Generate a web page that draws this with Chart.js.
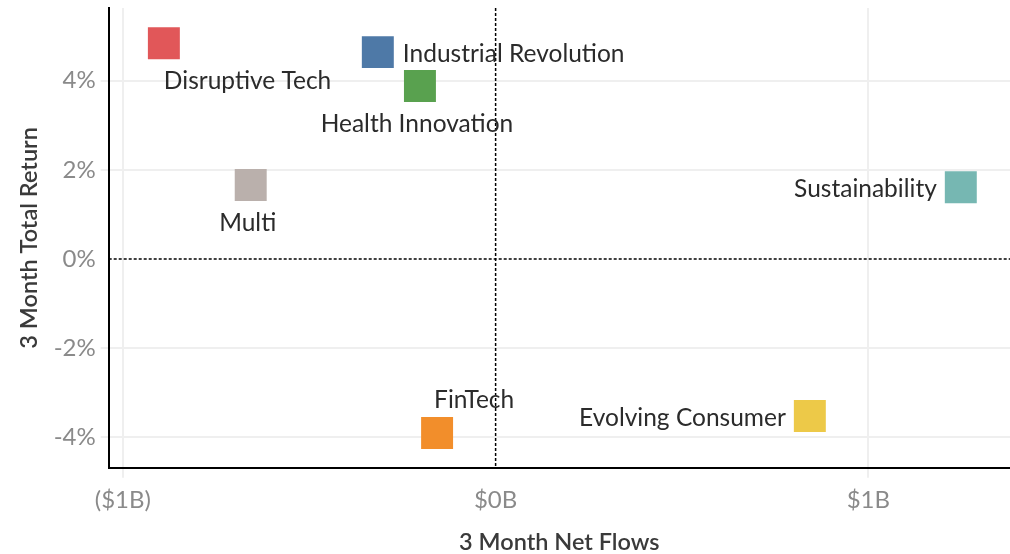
<!DOCTYPE html>
<html>
<head>
<meta charset="utf-8">
<script src="https://cdn.jsdelivr.net/npm/chart.js@4"></script>
<style>
  body { margin: 0; background: #fff; }
  #wrap { width: 1010px; height: 554px; }
</style>
</head>
<body>
<div id="wrap"><canvas id="flows-chart" width="1010" height="554"></canvas></div>
<script>
// data
const themes = ['Disruptive Tech', 'Industrial Revolution', 'Health Innovation', 'Multi', 'Sustainability', 'FinTech', 'Evolving Consumer'];
const netFlows = [-0.89, -0.316, -0.203, -0.657, 1.248, -0.157, 0.843];   // $B
const totalReturn = [4.84, 4.64, 3.88, 1.66, 1.61, -3.90, -3.52];         // %
const xTickValues = [-1, 0, 1];
const xTickLabels = ['($1B)', '$0B', '$1B'];
const yTickValues = [-4, -2, 0, 2, 4];
const yTickLabels = ['-4%', '-2%', '0%', '2%', '4%'];

const colors = ['#e15759', '#4e79a7', '#59a14f', '#bab0ac', '#76b7b2', '#f28e2b', '#edc948'];
// where each label sits relative to its square
const labelPos = ['belowRight', 'right', 'below', 'below', 'left', 'aboveRight', 'left'];

const FONT = 'Lato, "Open Sans", sans-serif';

const pointLabels = {
  id: 'pointLabels',
  afterDatasetsDraw(chart) {
    const ctx = chart.ctx;
    const meta = chart.getDatasetMeta(0);
    ctx.save();
    ctx.font = '24.5px ' + FONT;
    ctx.fillStyle = '#2b2b2b';
    ctx.textBaseline = 'middle';
    meta.data.forEach((pt, i) => {
      let x = pt.x, y = pt.y + 2, half = 16;
      let pos = labelPos[i];
      if (pos == 'right') { ctx.textAlign = 'left'; x += half + 9; }
      else if (pos == 'left') { ctx.textAlign = 'right'; x -= half + 8; }
      else if (pos == 'below') { ctx.textAlign = 'center'; y += half + 20; x -= 3; }
      else if (pos == 'belowRight') { ctx.textAlign = 'left'; y += half + 20; }
      else if (pos == 'aboveRight') { ctx.textAlign = 'left'; y -= half + 19; x -= 3; }
      ctx.fillText(themes[i], x, y);
    });
    ctx.restore();
  }
};

// dotted zero lines
const zeroLines = {
  id: 'zeroLines',
  beforeDatasetsDraw(chart) {
    const {ctx, chartArea, scales} = chart;
    const x0 = scales.x.getPixelForValue(0);
    const y0 = scales.y.getPixelForValue(0);
    ctx.save();
    ctx.strokeStyle = '#000';
    ctx.lineWidth = 1.5;
    ctx.setLineDash([3, 2]);
    ctx.beginPath();
    ctx.moveTo(x0, chartArea.top);
    ctx.lineTo(x0, chartArea.bottom);
    ctx.moveTo(chartArea.left, y0);
    ctx.lineTo(chartArea.right, y0);
    ctx.stroke();
    ctx.restore();
  }
};

const points = netFlows.map((v, i) => ({x: v, y: totalReturn[i]}));

new Chart(document.getElementById('flows-chart'), {
  type: 'scatter',
  data: {
    datasets: [{
      data: points,
      backgroundColor: colors,
      borderWidth: 0,
      pointStyle: 'rect',
      pointRadius: 22.6,
      pointHoverRadius: 22.6
    }]
  },
  options: {
    responsive: false,
    animation: false,
    layout: { autoPadding: false, padding: { top: 8, right: 0, left: 0, bottom: 0 } },
    plugins: { legend: { display: false }, tooltip: { enabled: false } },
    scales: {
      x: {
        type: 'linear',
        min: -1.038,
        max: 1.38,
        afterBuildTicks: s => { s.ticks = xTickValues.map(v => ({value: v})); },
        afterFit: s => { s.height = 86.3; s.paddingLeft = 0; s.paddingRight = 0; },
        ticks: {
          callback: (v) => xTickLabels[xTickValues.indexOf(v)],
          color: '#8a8a8a',
          font: { family: FONT, size: 24 },
          padding: 8,
          maxRotation: 0
        },
        grid: {
          color: c => c.tick && c.tick.value === 0 ? 'rgba(0,0,0,0)' : '#efefef',
          lineWidth: 2,
          tickLength: 10
        },
        border: { color: '#000', width: 2 },
        title: {
          display: true,
          text: '3 Month Net Flows',
          color: '#3a3a3a',
          font: { family: FONT, size: 23.5, weight: '600', lineHeight: 1.0 },
          padding: { top: 0, bottom: 0 }
        }
      },
      y: {
        type: 'linear',
        min: -4.68,
        max: 5.63,
        afterBuildTicks: s => { s.ticks = yTickValues.map(v => ({value: v})); },
        afterFit: s => { s.width = 108.7; s.paddingTop = 0; s.paddingBottom = 0; },
        ticks: {
          callback: (v) => yTickLabels[yTickValues.indexOf(v)],
          color: '#8a8a8a',
          font: { family: FONT, size: 24 },
          padding: 5
        },
        grid: {
          color: c => c.tick && c.tick.value === 0 ? 'rgba(0,0,0,0)' : '#efefef',
          lineWidth: 2,
          tickLength: 8
        },
        border: { color: '#000', width: 2 },
        title: {
          display: true,
          text: '3 Month Total Return',
          color: '#3a3a3a',
          font: { family: FONT, size: 23.5, weight: '600', lineHeight: 1.0 },
          padding: { top: 18, bottom: 0 }
        }
      }
    }
  },
  plugins: [zeroLines, pointLabels]
});
</script>
</body>
</html>
